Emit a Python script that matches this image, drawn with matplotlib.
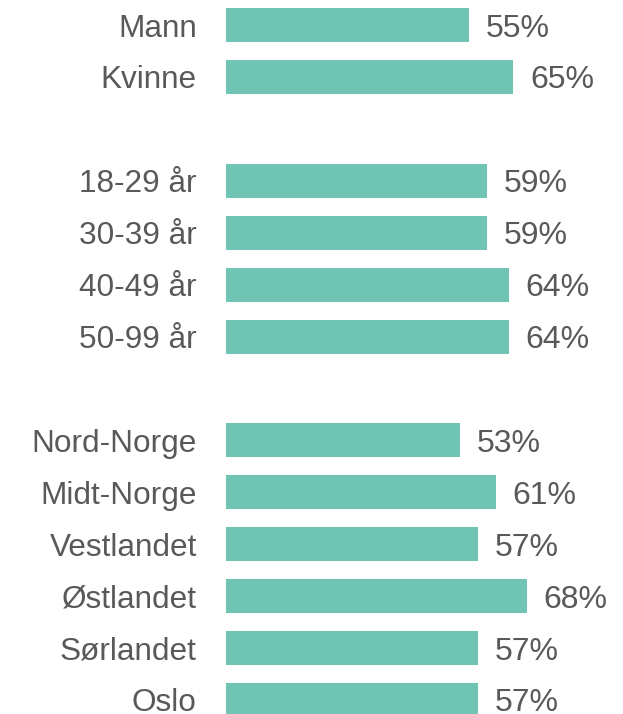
import numpy as np
import matplotlib.pyplot as plt

plt.rcParams['font.family'] = ['Liberation Sans', 'DejaVu Sans']

# labels and values (blank string = spacer row)
gender = ['Mann', 'Kvinne']
gender_vals = [55, 65]
age = ['18-29 år', '30-39 år', '40-49 år', '50-99 år']
age_vals = [59, 59, 64, 64]
region = ['Nord-Norge', 'Midt-Norge', 'Vestlandet', 'Østlandet', 'Sørlandet', 'Oslo']
region_vals = [53, 61, 57, 68, 57, 57]

labels = gender + [''] + age + [''] + region
values = gender_vals + [np.nan] + age_vals + [np.nan] + region_vals

bar_color = '#70C4B3'
text_color = '#595959'

fig = plt.figure(figsize=(6.23, 7.14), dpi=100)
ax = fig.add_axes([226 / 623, 0, 353.6 / 623, 1])

pos = np.arange(len(labels))
mask = ~np.isnan(values)
vals = np.array(values)[mask]
bars = ax.barh(pos[mask], vals, height=0.655, color=bar_color)
for b, v in zip(bars, vals):
    ax.annotate(f'{v:.0f}%', (b.get_width(), b.get_y() + b.get_height() / 2),
                xytext=(12, 0), textcoords='offset points',
                va='center_baseline', ha='left', fontsize=23, color=text_color)

ax.set_xlim(0, 80)
ax.set_ylim(13.27, -0.4815)
ax.set_yticks(pos[mask])
ax.set_yticklabels(np.array(labels)[mask], fontsize=22.7, color=text_color)
for t in ax.get_yticklabels():
    t.set_verticalalignment('center_baseline')
ax.tick_params(axis='y', length=0, pad=21)
ax.set_xticks([])
for s in ax.spines.values():
    s.set_visible(False)

fig.savefig('out.png', dpi=100)
